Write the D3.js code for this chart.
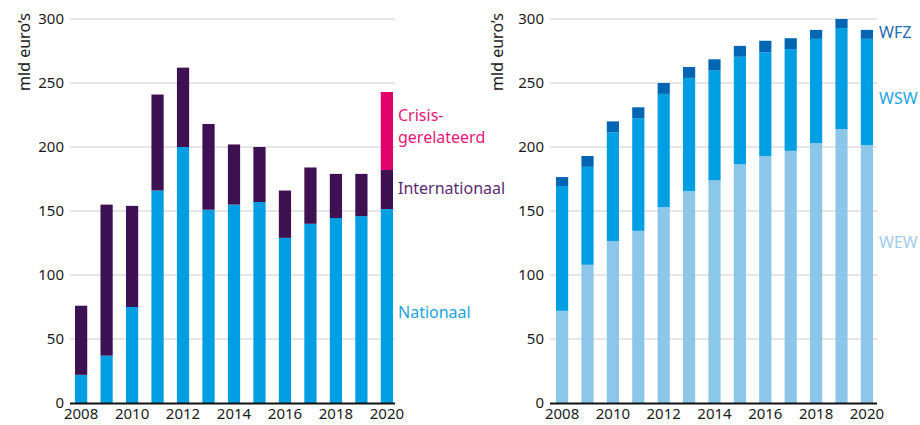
<!DOCTYPE html>
<html>
<head>
<meta charset="utf-8">
<script src="https://cdn.jsdelivr.net/npm/d3@7"></script>
<style>
  body { margin: 0; background: #fff; }
  svg text { font-family: "Noto Sans", "Open Sans", sans-serif; }
  .grid-line { stroke: #dedede; stroke-width: 1.5; }
  .tick-label { font-size: 15px; fill: #1a1a1a; }
  .axis-title { font-size: 16px; fill: #1a1a1a; }
  .series-label { font-size: 16px; }
</style>
</head>
<body>
<div id="wrapper"></div>
<script>
// data
const years = [2008, 2009, 2010, 2011, 2012, 2013, 2014, 2015, 2016, 2017, 2018, 2019, 2020];
const nationaal = [22, 37, 75, 166, 200, 151, 155, 157, 129, 140, 144.5, 146, 151.5];
const internationaal = [54, 118, 79, 75, 62, 67, 47, 43, 37, 44, 34.5, 33, 30.5];
const crisis = [0, 0, 0, 0, 0, 0, 0, 0, 0, 0, 0, 0, 61];

const wew = [72, 108, 126.5, 134.5, 153, 165.5, 174, 186.5, 193, 197, 203, 214, 201.5];
const wsw = [97.5, 76.5, 85, 88, 88.5, 88.5, 86, 84, 81, 79.5, 81.5, 79, 83];
const wfz = [7, 8.5, 8.5, 8.5, 8.5, 8.5, 8.5, 8.5, 9, 8.5, 7, 7, 7];

const yTicks = [0, 50, 100, 150, 200, 250, 300];
const xTicks = [2008, 2010, 2012, 2014, 2016, 2018, 2020];

const width = 920;
const height = 425;

const svg = d3.select('#wrapper')
  .append('svg')
  .attr('width', width)
  .attr('height', height);

const yScale = d3.scaleLinear().domain([0, 300]).range([403, 19]);

function drawPanel(opts) {
  const g = svg.append('g');
  const xScale = d3.scaleBand()
    .domain(years)
    .range(opts.barRange)
    .paddingInner(0.52)
    .paddingOuter(0);

  // grid
  yTicks.forEach((t) => {
    if (t === 0) return;
    g.append('line')
      .attr('class', 'grid-line')
      .attr('x1', opts.gridRange[0])
      .attr('x2', opts.gridRange[1])
      .attr('y1', yScale(t))
      .attr('y2', yScale(t));
    });
  yTicks.forEach((t) => {
    g.append('text')
      .attr('class', 'tick-label')
      .attr('x', opts.gridRange[0] - 6)
      .attr('y', yScale(t) + 5)
      .attr('text-anchor', 'end')
      .text(t);
  });

  // stacked bars
  const table = years.map((y, i) => {
    const row = { year: y };
    opts.series.forEach((s) => { row[s.key] = s.values[i]; });
    return row;
  });
  const stack = d3.stack().keys(opts.series.map((s) => s.key))(table);
  const color = d3.scaleOrdinal()
    .domain(opts.series.map((s) => s.key))
    .range(opts.series.map((s) => s.color));

  g.selectAll('g.layer')
    .data(stack)
    .join('g')
    .attr('class', 'layer')
    .attr('fill', (d) => color(d.key))
    .selectAll('rect')
    .data((d) => d)
    .join('rect')
    .attr('x', (d) => xScale(d.data.year))
    .attr('width', xScale.bandwidth())
    .attr('y', (d) => yScale(d[1]))
    .attr('height', (d) => yScale(d[0]) - yScale(d[1]));

  // baseline
  g.append('line')
    .attr('x1', opts.gridRange[0])
    .attr('x2', opts.gridRange[1])
    .attr('y1', yScale(0) + 0.5)
    .attr('y2', yScale(0) + 0.5)
    .attr('stroke', '#111')
    .attr('stroke-width', 2);

  // x labels
  xTicks.forEach((t) => {
    g.append('text')
      .attr('class', 'tick-label')
      .attr('x', xScale(t) + xScale.bandwidth() / 2)
      .attr('y', 419)
      .attr('text-anchor', 'middle')
      .text(t);
  });

  // y title
  g.append('text')
    .attr('class', 'axis-title')
    .attr('transform', `translate(${opts.titleX}, 52) rotate(-90)`)
    .attr('text-anchor', 'middle')
    .text('mld euro’s');

  // series labels
  opts.labels.forEach((l) => {
    const t = g.append('text')
      .attr('class', 'series-label')
      .attr('x', opts.labelX)
      .attr('y', l.y)
      .attr('fill', l.color);
    l.lines.forEach((line, i) => {
      t.append('tspan')
        .attr('x', opts.labelX)
        .attr('dy', i === 0 ? 0 : 22)
        .text(line);
    });
  });
}

drawPanel({
  barRange: [75, 393],
  gridRange: [70, 395],
  titleX: 30,
  labelX: 398,
  series: [
    { key: 'nationaal', values: nationaal, color: '#009fe3' },
    { key: 'internationaal', values: internationaal, color: '#3d1152' },
    { key: 'crisis', values: crisis, color: '#e2006b' },
  ],
  labels: [
    { lines: ['Crisis-', 'gerelateerd'], y: 121, color: '#e5177a' },
    { lines: ['Internationaal'], y: 194, color: '#5b2b72' },
    { lines: ['Nationaal'], y: 318, color: '#1aa4e3' },
  ],
});

drawPanel({
  barRange: [556, 873],
  gridRange: [550, 877],
  titleX: 503,
  labelX: 879,
  series: [
    { key: 'wew', values: wew, color: '#8cc6e8' },
    { key: 'wsw', values: wsw, color: '#009fe3' },
    { key: 'wfz', values: wfz, color: '#0066b3' },
  ],
  labels: [
    { lines: ['WFZ'], y: 38, color: '#1f6db3' },
    { lines: ['WSW'], y: 104, color: '#1aa4e3' },
    { lines: ['WEW'], y: 248, color: '#9fcdec' },
  ],
});
</script>
</body>
</html>
